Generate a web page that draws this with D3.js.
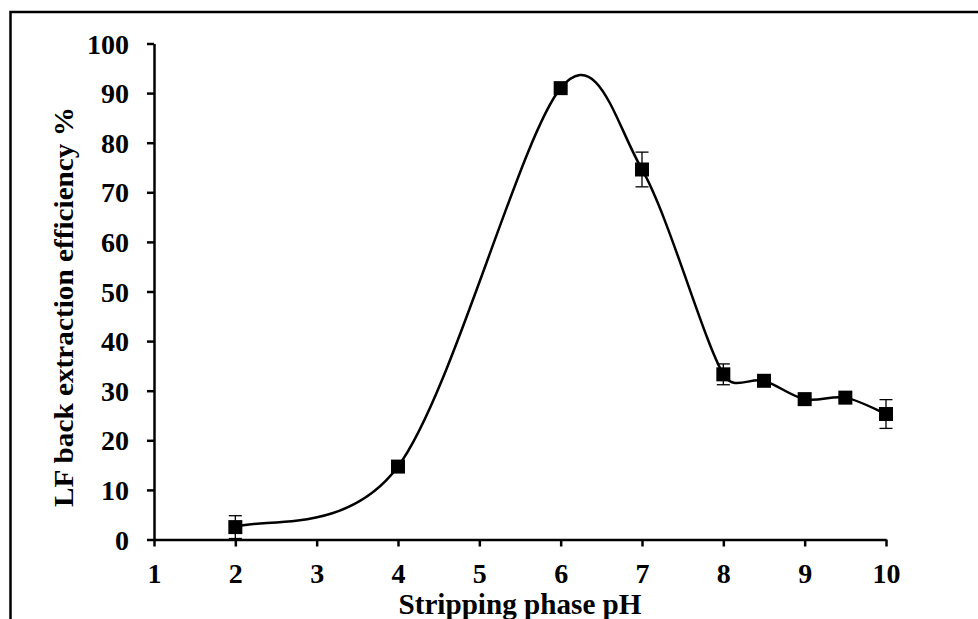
<!DOCTYPE html>
<html>
<head>
<meta charset="utf-8">
<script src="https://cdn.jsdelivr.net/npm/d3@7"></script>
<style>
  body { margin: 0; background: #fff; }
  svg { display: block; }
  text { font-family: "Liberation Serif", "Times New Roman", serif; font-weight: bold; fill: #000; }
</style>
</head>
<body>
<div id="chart"></div>
<script>
// stripping phase pH vs LF back extraction efficiency (%)
const phValues = [2, 4, 6, 7, 8, 8.5, 9, 9.5, 10]
const efficiency = [2.5, 14.7, 91.0, 74.6, 33.3, 32.0, 28.3, 28.6, 25.3]
const errors = [2.3, 0.6, 0.5, 3.5, 2.1, 0.5, 0.5, 0.5, 2.9]
const xTicks = [1, 2, 3, 4, 5, 6, 7, 8, 9, 10]
const yTicks = [0, 10, 20, 30, 40, 50, 60, 70, 80, 90, 100]

const W = 978
const H = 619

// spreadsheet-style smoothing: bezier segments, control arms of 1/6 of the
// neighbour chord but never longer than half of the segment itself
function ExcelSmooth(context) {
    this._context = context
}
ExcelSmooth.prototype = {
    areaStart() {},
    areaEnd() {},
    lineStart() { this._pts = [] },
    point(x, y) { this._pts.push([+x, +y]) },
    lineEnd() {
        const p = this._pts
        const ctx = this._context
        const dist = (a, b) => Math.hypot(b[0] - a[0], b[1] - a[1])
        if (!p.length) return
        ctx.moveTo(p[0][0], p[0][1])
        for (let i = 0; i < p.length - 1; i++) {
            const p0 = p[i - 1] || p[i]
            const p1 = p[i]
            const p2 = p[i + 1]
            const p3 = p[i + 2] || p[i + 1]
            const d12 = dist(p1, p2)
            const d02 = dist(p0, p2)
            const d13 = dist(p1, p3)
            const f0 = d02 / 6 < d12 / 2 ? 1 / 6 : d12 / (2 * d02)
            const f3 = d13 / 6 < d12 / 2 ? 1 / 6 : d12 / (2 * d13)
            ctx.bezierCurveTo(
                p1[0] + (p2[0] - p0[0]) * f0, p1[1] + (p2[1] - p0[1]) * f0,
                p2[0] - (p3[0] - p1[0]) * f3, p2[1] - (p3[1] - p1[1]) * f3,
                p2[0], p2[1])
        }
    }
}
const curveExcel = context => new ExcelSmooth(context)

const svg = d3.select('#chart')
    .append('svg')
    .attr('width', W)
    .attr('height', H)

// outer frame (runs off the right and bottom of the picture)
svg.append('rect')
    .attr('x', 10.5)
    .attr('y', 12)
    .attr('width', 1000)
    .attr('height', 700)
    .attr('fill', 'none')
    .attr('stroke', '#000')
    .attr('stroke-width', 2.5)

const xScale = d3.scaleLinear()
    .domain([1, 10])
    .range([154, 886])

const yScale = d3.scaleLinear()
    .domain([0, 100])
    .range([539.5, 43.5])

const xAxis = svg.append('g')
    .attr('transform', `translate(0, ${yScale(0)})`)
    .call(d3.axisBottom(xScale).tickValues(xTicks).tickSize(7).tickSizeOuter(0).tickPadding(17))

const yAxis = svg.append('g')
    .attr('transform', `translate(${xScale(1)}, 0)`)
    .call(d3.axisLeft(yScale).tickValues(yTicks).tickSize(7).tickSizeOuter(0).tickPadding(18))

;[xAxis, yAxis].forEach(ax => {
    ax.select('.domain').attr('stroke', '#000').attr('stroke-width', 2.5)
    ax.selectAll('.tick line').attr('stroke', '#000').attr('stroke-width', 2.5)
    ax.selectAll('.tick text')
        .attr('font-size', '28px')
        .attr('font-family', '"Liberation Serif", "Times New Roman", serif')
        .attr('font-weight', 'bold')
        .attr('fill', '#000')
})
yAxis.selectAll('.tick text').attr('dy', '0.34em')

// axis titles
svg.append('text')
    .attr('x', 520)
    .attr('y', 614)
    .attr('text-anchor', 'middle')
    .attr('font-size', '29px')
    .attr('textLength', 243)
    .attr('lengthAdjust', 'spacingAndGlyphs')
    .text('Stripping phase pH')

svg.append('text')
    .attr('transform', 'translate(73, 307) rotate(-90)')
    .attr('text-anchor', 'middle')
    .attr('font-size', '28px')
    .attr('textLength', 400)
    .attr('lengthAdjust', 'spacingAndGlyphs')
    .text('LF back extraction efficiency %')

const points = phValues.map((x, i) => ({x: x, y: efficiency[i], e: errors[i]}))

// smoothed line
const line = d3.line()
    .x(d => xScale(d.x))
    .y(d => yScale(d.y))
    .curve(curveExcel)

svg.append('path')
    .datum(points)
    .attr('fill', 'none')
    .attr('stroke', '#000')
    .attr('stroke-width', 2.5)
    .attr('d', line)

// error bars
const bars = svg.append('g').attr('stroke', '#000').attr('stroke-width', 1.3)
points.forEach(d => {
    const cx = xScale(d.x)
    bars.append('line')
        .attr('x1', cx).attr('x2', cx)
        .attr('y1', yScale(d.y - d.e)).attr('y2', yScale(d.y + d.e))
    ;[d.y - d.e, d.y + d.e].forEach(v => {
        bars.append('line')
            .attr('x1', cx - 6.5).attr('x2', cx + 6.5)
            .attr('y1', yScale(v)).attr('y2', yScale(v))
    })
})

// square markers
const size = 14
svg.append('g')
    .selectAll('rect')
    .data(points)
    .enter()
    .append('rect')
    .attr('x', d => xScale(d.x) - size / 2)
    .attr('y', d => yScale(d.y) - size / 2)
    .attr('width', size)
    .attr('height', size)
    .attr('fill', '#000')
</script>
</body>
</html>
